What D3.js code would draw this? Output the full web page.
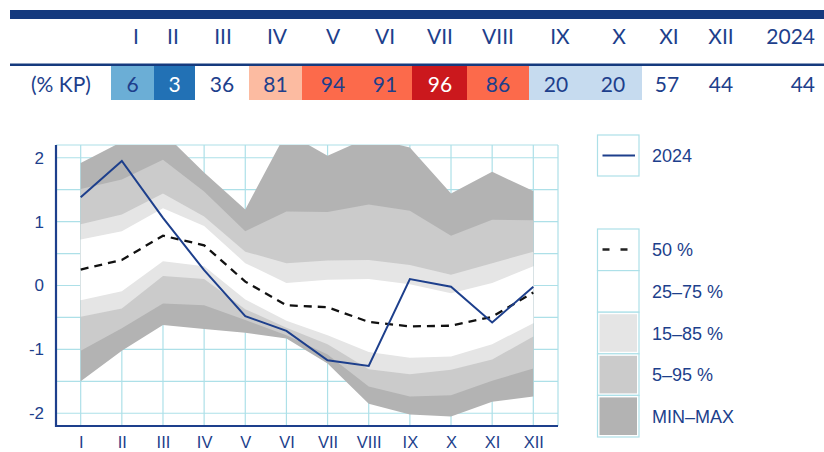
<!DOCTYPE html>
<html>
<head>
<meta charset="utf-8">
<script src="https://cdn.jsdelivr.net/npm/d3@7"></script>
<style>
    body { margin: 0; background: #fff; }
    svg { display: block; }
</style>
</head>
<body>
<svg id="chart" width="824" height="452"></svg>
<script>
// months and table values
const months = ["I", "II", "III", "IV", "V", "VI", "VII", "VIII", "IX", "X", "XI", "XII"];
const table_labels = months.concat(["2024"]);
const table_values = [6, 3, 36, 81, 94, 91, 96, 86, 20, 20, 57, 44, 44];

// percentile bands per month
const min_vals = [-1.50, -1.02, -0.62, -0.68, -0.74, -0.83, -1.22, -1.85, -2.02, -2.05, -1.82, -1.74];
const p5_vals  = [-1.02, -0.67, -0.28, -0.31, -0.54, -0.78, -1.08, -1.58, -1.74, -1.72, -1.49, -1.30];
const p15_vals = [-0.49, -0.36, 0.15, 0.10, -0.37, -0.66, -0.92, -1.31, -1.39, -1.32, -1.16, -0.80];
const p25_vals = [-0.23, -0.09, 0.38, 0.30, -0.22, -0.55, -0.78, -1.04, -1.13, -1.11, -0.92, -0.59];
const p50_vals = [0.25, 0.40, 0.78, 0.63, 0.06, -0.31, -0.34, -0.57, -0.64, -0.63, -0.49, -0.11];
const p75_vals = [0.72, 0.85, 1.21, 0.93, 0.35, 0.04, 0.09, 0.10, 0.02, -0.12, 0.04, 0.30];
const p85_vals = [0.96, 1.11, 1.44, 1.08, 0.53, 0.35, 0.39, 0.40, 0.32, 0.17, 0.35, 0.53];
const p95_vals = [1.51, 1.66, 1.97, 1.47, 0.85, 1.16, 1.15, 1.27, 1.17, 0.78, 1.03, 1.02];
const max_vals = [1.92, 2.25, 2.40, 1.77, 1.19, 2.40, 2.03, 2.32, 2.16, 1.44, 1.78, 1.48];
const year_vals = [1.38, 1.95, 1.06, 0.24, -0.48, -0.71, -1.17, -1.26, 0.10, -0.02, -0.58, -0.02];

const y_ticks = [-2, -1, 0, 1, 2];
const legend_items = ["50 %", "25–75 %", "15–85 %", "5–95 %", "MIN–MAX"];

const navy = "#1d3f8c";
const grid_color = "#ade0e8";
const band_colors = ["#b3b3b3", "#cbcbcb", "#e5e5e5", "#ffffff"];

const svg = d3.select("#chart");

// ---- table on top ----
const header_x = [136, 173, 223, 277, 333, 385, 440, 498, 560, 619, 669, 721, 815];
const value_x = [132.5, 174.5, 222, 275.5, 333, 385, 440, 498, 556, 613, 667, 721, 815];
const cell_edges = [111, 154, 195, 249, 302, 359, 412, 467, 529, 584, 642, 695, 748];

const cell_color = d3.scaleThreshold()
    .domain([5, 10, 25, 75, 85, 95])
    .range(["#2271b5", "#6baed6", "#c6dbef", "#ffffff", "#fcbba1", "#fc6a4b", "#cb181d"]);

svg.append("rect").attr("x", 10).attr("y", 10).attr("width", 814).attr("height", 9).attr("fill", "#153a7e");
svg.append("rect").attr("x", 10).attr("y", 63.5).attr("width", 814).attr("height", 2.5).attr("fill", "#153a7e");

const table_font = "Lato, 'Noto Sans', sans-serif";

svg.append("g").selectAll("rect")
    .data(table_values.slice(0, 12))
    .enter()
    .append("rect")
    .attr("x", (d, i) => cell_edges[i])
    .attr("y", 66)
    .attr("width", (d, i) => cell_edges[i + 1] - cell_edges[i])
    .attr("height", 34)
    .attr("fill", d => cell_color(d));

svg.append("g").selectAll("text")
    .data(table_labels)
    .enter()
    .append("text")
    .attr("x", (d, i) => header_x[i])
    .attr("y", 43.5)
    .attr("text-anchor", (d, i) => i === 12 ? "end" : "middle")
    .attr("font-family", table_font)
    .attr("font-size", 21)
    .attr("fill", navy)
    .text(d => d);

svg.append("g").selectAll("text")
    .data(table_values)
    .enter()
    .append("text")
    .attr("x", (d, i) => value_x[i])
    .attr("y", 91.5)
    .attr("text-anchor", (d, i) => i === 12 ? "end" : "middle")
    .attr("font-family", table_font)
    .attr("font-size", 21)
    .attr("fill", d => (d < 5 || d >= 95) ? "#ffffff" : navy)
    .text(d => d);

svg.append("text")
    .attr("x", 61).attr("y", 91.5)
    .attr("text-anchor", "middle")
    .attr("font-family", table_font)
    .attr("font-size", 21)
    .attr("fill", navy)
    .text("(% KP)");

// ---- chart ----
const plot_left = 56, plot_right = 558, plot_top = 145, plot_bottom = 426;

const x = d3.scalePoint().domain(months).range([plot_left, plot_right]).padding(0.6);
const y = d3.scaleLinear().domain([-2.2, 2.2]).range([plot_bottom, plot_top]);

const grid = svg.append("g");
grid.selectAll("line.h")
    .data(d3.range(-2, 2.01, 0.5).concat([2.2]))
    .enter()
    .append("line")
    .attr("x1", plot_left).attr("x2", plot_right)
    .attr("y1", d => y(d)).attr("y2", d => y(d))
    .attr("stroke", grid_color).attr("stroke-width", 1.2);
grid.selectAll("line.v")
    .data(months.map(m => x(m)).concat([plot_right]))
    .enter()
    .append("line")
    .attr("x1", d => d).attr("x2", d => d)
    .attr("y1", plot_top).attr("y2", plot_bottom)
    .attr("stroke", grid_color).attr("stroke-width", 1.2);

svg.append("clipPath").attr("id", "plot_clip")
    .append("rect").attr("x", plot_left).attr("y", plot_top)
    .attr("width", plot_right - plot_left).attr("height", plot_bottom - plot_top);

const bands = [
    [min_vals, max_vals],
    [p5_vals, p95_vals],
    [p15_vals, p85_vals],
    [p25_vals, p75_vals]
];

const area = d3.area()
    .x((d, i) => x(months[i]))
    .y0(d => y(d[0]))
    .y1(d => y(d[1]));

const plot = svg.append("g").attr("clip-path", "url(#plot_clip)");
bands.forEach((b, k) => {
    plot.append("path")
        .datum(months.map((m, i) => [b[0][i], b[1][i]]))
        .attr("d", area)
        .attr("fill", band_colors[k]);
});

const line = d3.line().x((d, i) => x(months[i])).y(d => y(d));

plot.append("path")
    .datum(p50_vals)
    .attr("d", line)
    .attr("fill", "none")
    .attr("stroke", "#111")
    .attr("stroke-width", 2.3)
    .attr("stroke-dasharray", "8,6");

plot.append("path")
    .datum(year_vals)
    .attr("d", line)
    .attr("fill", "none")
    .attr("stroke", navy)
    .attr("stroke-width", 2);

// axes
const axis_font = "'Liberation Sans', Arial, sans-serif";

const y_axis = svg.append("g")
    .attr("transform", `translate(${plot_left},0)`)
    .call(d3.axisLeft(y).tickValues(y_ticks).tickSize(0).tickPadding(12).tickFormat(d => String(d)));
y_axis.select(".domain").remove();
y_axis.selectAll("text").attr("font-family", axis_font).attr("font-size", 17).attr("fill", navy);

const x_axis = svg.append("g")
    .attr("transform", `translate(0,${plot_bottom})`)
    .call(d3.axisBottom(x).tickSize(0).tickPadding(10));
x_axis.select(".domain").remove();
x_axis.selectAll("text").attr("font-family", axis_font).attr("font-size", 16.5).attr("fill", navy);

svg.append("line").attr("x1", plot_left).attr("x2", plot_left).attr("y1", plot_top).attr("y2", plot_bottom + 1)
    .attr("stroke", navy).attr("stroke-width", 2.2);
svg.append("line").attr("x1", plot_left - 1).attr("x2", plot_right).attr("y1", plot_bottom).attr("y2", plot_bottom)
    .attr("stroke", navy).attr("stroke-width", 2.2);

// ---- legend ----
const lx = 597.5, lw = 41.5, lh = 41.6;
const legend = svg.append("g");

legend.append("rect").attr("x", lx).attr("y", 135).attr("width", lw).attr("height", 41)
    .attr("fill", "#fff").attr("stroke", grid_color).attr("stroke-width", 1.2);
legend.append("line").attr("x1", lx + 5).attr("x2", lx + lw - 4).attr("y1", 155.5).attr("y2", 155.5)
    .attr("stroke", navy).attr("stroke-width", 2);
legend.append("text").attr("x", 652).attr("y", 162)
    .attr("font-family", axis_font).attr("font-size", 18).attr("fill", navy).text("2024");

const legend_fills = ["#ffffff"].concat(band_colors.slice().reverse());
legend_items.forEach((label, i) => {
    const ly = 229 + i * lh;
    legend.append("rect").attr("x", lx).attr("y", ly).attr("width", lw).attr("height", lh)
        .attr("fill", "#fff").attr("stroke", grid_color).attr("stroke-width", 1.2);
    if (i >= 2) {
        legend.append("rect").attr("x", lx + 2).attr("y", ly + 2).attr("width", lw - 4).attr("height", lh - 4)
            .attr("fill", legend_fills[i]);
    }
    legend.append("text").attr("x", 652).attr("y", ly + lh / 2 + 6.5)
        .attr("font-family", axis_font).attr("font-size", 18).attr("fill", navy).text(label);
});
legend.append("line").attr("x1", lx + 5).attr("x2", lx + 30).attr("y1", 249.5).attr("y2", 249.5)
    .attr("stroke", "#222").attr("stroke-width", 2.5).attr("stroke-dasharray", "7,11");
</script>
</body>
</html>
